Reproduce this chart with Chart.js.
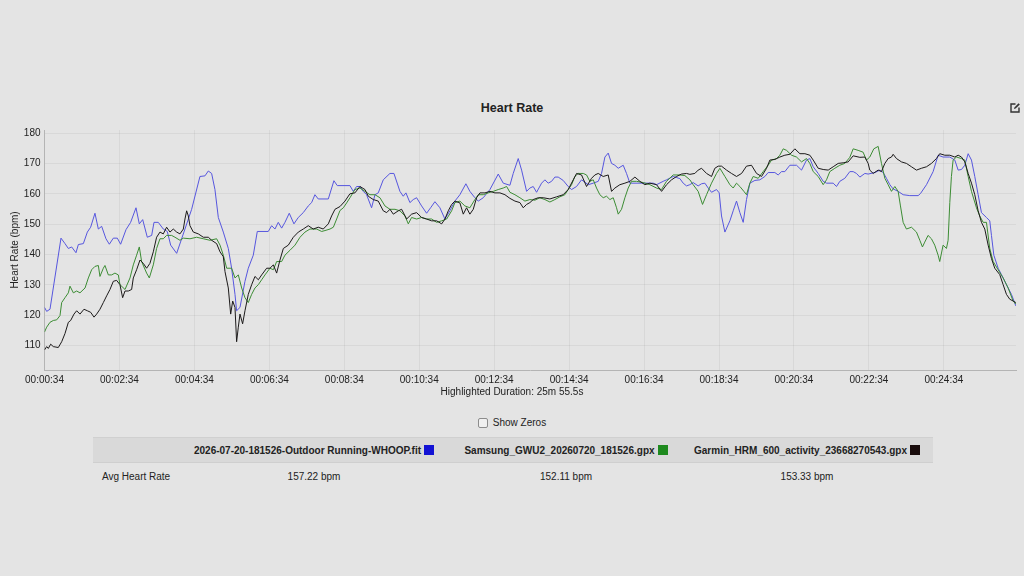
<!DOCTYPE html>
<html>
<head>
<meta charset="utf-8">
<script src="https://cdn.jsdelivr.net/npm/chart.js@4"></script>
<style>
  html, body { margin: 0; padding: 0; }
  body {
    width: 1024px; height: 576px; overflow: hidden; position: relative;
    background: #e4e4e4; color: #222;
    font-family: "Liberation Sans", Arial, Helvetica, sans-serif;
  }
  .title { position: absolute; top: 101px; left: 0; width: 1024px; text-align: center; font-weight: bold; font-size: 12.5px; }
  .edit { position: absolute; top: 102px; left: 1009px; }
  #wrap { position: absolute; left: 0; top: 120px; width: 1024px; height: 270px; }
  .duration { position: absolute; top: 386px; left: 0; width: 1024px; text-align: center; font-size: 10px; }
  .zeros { position: absolute; top: 417px; left: 0; width: 1024px; display: flex; justify-content: center; align-items: center; font-size: 10px; }
  .zeros .box { width: 8px; height: 8px; border: 1px solid #8c8c8c; border-radius: 2px; background: #f0f0f0; margin-right: 5px; }
  table { position: absolute; top: 437px; left: 93px; width: 840px; border-collapse: collapse; font-size: 10px; table-layout: fixed; }
  th { background: #d9d9d9; height: 24px; font-weight: bold; text-align: center; border-top: 1px solid #d0d0d0; border-bottom: 1px solid #cfcfcf; padding: 0; white-space: nowrap; }
  td { height: 26px; text-align: center; padding: 0; white-space: nowrap; }
  td.lbl { text-align: left; padding-left: 9px; }
  .sq { display: inline-block; width: 10px; height: 10px; vertical-align: -1px; margin-left: 3px; }
</style>
</head>
<body>
<div class="title">Heart Rate</div>
<svg class="edit" width="12" height="12" viewBox="0 0 12 12">
  <path d="M6.5 2 H2 V10 H10 V5.5" fill="none" stroke="#333" stroke-width="1.4"/>
  <path d="M5 7 L5.4 5.4 L9.6 1.2 L10.8 2.4 L6.6 6.6 Z" fill="#333"/>
</svg>
<div id="wrap"><canvas id="hr" width="1024" height="270"></canvas></div>
<div class="duration">Highlighted Duration: 25m 55.5s</div>
<div class="zeros"><span class="box"></span>Show Zeros</div>
<table>
  <colgroup><col style="width:84px"><col style="width:274px"><col style="width:230px"><col style="width:252px"></colgroup>
  <tr><th></th>
    <th>2026-07-20-181526-Outdoor Running-WHOOP.fit<span class="sq" style="background:#1212d4"></span></th>
    <th>Samsung_GWU2_20260720_181526.gpx<span class="sq" style="background:#1e8a1e"></span></th>
    <th>Garmin_HRM_600_activity_23668270543.gpx<span class="sq" style="background:#1a0d0d"></span></th></tr>
  <tr><td class="lbl">Avg Heart Rate</td><td>157.22 bpm</td><td>152.11 bpm</td><td>153.33 bpm</td></tr>
</table>
<script>
// elapsed seconds since 00:00:34 and heart rate
const whoopTime = [0,3.5,8.8,26.4,32.8,38.2,43.5,50.4,54.2,62.2,68.6,73.9,80.8,86.2,91.5,98.4,103.8,110.2,116.6,121.9,130.5,137.9,146.5,151.8,157.2,164.6,171.6,175.3,182.2,190.2,196.6,202,211.6,224.9,235.6,248.9,256.9,262.3,267.6,272.9,278.3,286.3,294.3,299.6,305,307.6,313,321,326.3,334.3,340.7,358.3,363.7,369,374.3,379.7,385,391.9,399.4,406.3,414.3,422.3,427.7,433,438.3,454.4,463.4,468.8,489,494.4,499.7,505.1,510.4,515.7,523.7,529.1,534.4,542.4,553.1,559.5,569.1,574.4,578.7,585.1,590.4,595.8,603.8,611.8,618.2,625.1,633.1,641.1,649.1,657.1,665.1,674.7,681.1,689.1,694.5,702.5,713.2,726.5,734.5,745.2,750.5,758.5,763.9,771.9,777.2,782.5,787.9,795.9,801.2,806.5,811.9,817.2,822.5,830.5,838.5,843.9,851.9,859.9,870.6,878.6,886.6,891.9,897.3,902.6,907.9,913.3,918.6,926.6,931.9,937.3,974.6,980,990.6,996,1006.6,1017.3,1022.6,1028,1033.3,1038.6,1046.6,1052,1057.3,1062.7,1068,1076,1080.3,1084,1089.4,1097.4,1102.7,1108,1113.4,1118.7,1124,1129.4,1137.4,1145.4,1153.4,1158.7,1169.4,1174.7,1180.1,1185.4,1193.4,1204.1,1212.1,1220.1,1225.4,1230.8,1238.8,1246.8,1252.1,1262.8,1268.1,1273.4,1281.4,1289.4,1294.8,1300.1,1305.5,1313.5,1318.8,1329.5,1337.5,1342.8,1348.1,1353.5,1358.8,1366.8,1374.8,1385.5,1398.8,1402.6,1412.2,1422.8,1430.8,1438.8,1449.5,1457.5,1462.9,1468.2,1473.5,1478.9,1484.2,1489.5,1494.9,1500.2,1508.2,1513.5,1516.2,1520,1526.9,1532.2,1540.2,1548.2,1555.2];
const whoopHr = [122.6,121.3,122,145.4,143.6,142,142.5,140.6,143.3,143.6,147.4,149,153.6,148.4,149.3,145.2,143.4,145.4,145.4,143.4,148.2,150.6,155.4,150.1,151.5,145.7,146.3,150.6,150.6,148.4,147.6,143.1,140.4,148.4,154.9,165.7,165.9,167.5,166.7,161.4,152.2,147.4,142,135.5,126.9,121.5,122.6,131.2,135.5,139.8,147.6,147.6,149.5,148.4,150.6,148.7,150.6,153.6,150.1,152.2,153.8,156,157.1,159.7,158.3,158.3,164.3,162.7,162.7,160.8,162.4,162.4,160.8,159.7,155.4,159.7,160.3,164.6,166.7,166.7,160.8,159.2,160.3,157.1,158.1,158.7,156,153.6,155.4,157.4,155.4,151.7,154.4,157.6,159.7,163.3,160.8,158.7,157.6,158.7,161.4,166.5,163.5,162.8,166.7,171.6,167.8,160.8,161.9,162.4,160.5,163.5,164.6,163.5,164.1,165.5,165.5,164.4,162.4,161.4,162.4,164.6,163,163.5,164.1,166.7,172.1,173.4,170,169.4,168.4,169.4,166.7,163.5,163.5,163,164.1,164.6,165.7,165,163.5,162.6,163,163.7,162.6,163.3,163.5,161.9,160.5,161.4,160.3,152.7,147.4,151.1,154.4,157.6,153.8,150.6,158.1,163.5,164.4,164.6,165.7,167,167,166.2,167.3,167.3,169.4,169.4,167.8,171.1,171.6,168.9,166.7,164.1,163.5,163.5,162.4,164.1,165.1,167.3,167.3,166.7,165.5,166.7,166.5,167,167.8,167,165.1,163,161.6,160.8,159.7,159.4,159.4,160.1,163,167.3,172.7,172.1,172.1,171.1,167.8,168,169.4,173.2,171.1,165.7,159.7,153.8,152.2,151.1,146.3,139.8,135.5,133.4,130.1,126.9,123.1];

const samsungTime = [0,3.5,8.8,14.1,19.5,24.8,27.5,32.8,38.2,40.8,46.2,51.5,56.8,64.9,70.2,75.5,80.8,86.2,88.8,94.2,96.8,102.2,107.5,112.8,118.2,120.8,128.9,136.9,142.2,147.5,151.8,155.5,163.5,167.8,174.2,179.5,184.9,190.2,195.5,203.5,208.9,216.9,222.3,233,243.6,254.3,265,275.6,281,286.3,291.7,299.6,305,310.3,315.7,321,326.3,331.7,337,342.4,347.7,353,361,366.4,371.7,379.7,385,393,401.1,409.1,417.1,425.1,435.8,443.8,449.1,457.1,462.5,467.8,473.1,478.5,483.8,489.1,497,505.1,513.1,521.1,529.1,537.1,545.1,553.1,561.2,569.1,577.2,582.5,587.8,595.8,603.8,611.8,619.8,627.9,635.9,643.9,651.9,657.1,665.1,673.1,681.1,689.1,694.5,702.5,710.5,718.5,726.5,734.5,739.9,745.2,753.2,761.2,769.2,777.2,785.2,793.2,801.2,809.2,817.2,825.2,833.2,838.5,843.9,849.2,854.5,862.6,867.9,873.2,878.6,883.9,889.2,894.6,899.9,905.3,910.6,915.9,918.6,923.9,929.3,934.6,939.9,947.9,958.6,969.3,979.9,987.9,995.9,1006.6,1017.3,1025.3,1033.3,1038.6,1046.6,1053.6,1060,1068,1076,1081.4,1089.4,1097.4,1102.7,1108,1113.4,1119.8,1124,1129.4,1134.7,1142.7,1150.7,1158.7,1164.1,1172.1,1177.4,1182.8,1188.1,1196.1,1204.1,1212.1,1220.1,1225.4,1230.8,1238.8,1246.8,1252.1,1257.4,1265.4,1273.4,1281.4,1289.4,1294.8,1302.7,1310.7,1316.1,1321.4,1327.8,1334.8,1340.1,1345.5,1350.8,1356.1,1361.5,1366.8,1370.5,1374.8,1380.1,1388.1,1396.1,1401.5,1405.7,1409.4,1414.7,1420.1,1425.4,1430.8,1433.4,1438.8,1444.1,1446.8,1449.5,1452.1,1454.8,1460.1,1468.2,1473.5,1478.9,1484.2,1492.2,1497.5,1502.9,1508.2,1513.5,1518.9,1526.9,1534.9,1542.9,1550.9,1555.2];
const samsungHr = [114.5,116.1,117.7,118.3,118.5,119.9,124.2,125.8,127.4,129.6,127.4,128,127.4,129,132.3,135,136.1,136.4,132.8,135.5,136.4,133.3,133.3,133.9,133.3,130.1,128.5,132.3,136.6,139.8,142.5,137.7,133.9,132.3,136.6,142,145.2,145.2,146.3,146.3,145.7,144.7,145.4,145.2,145.7,145.2,144.7,145.2,143.1,139.8,135.5,135.5,132.3,133.3,129,125.8,124.2,126.9,129,130.1,131.7,133.3,135.5,135,137.7,137.7,139.8,141.4,143.1,145.7,147.4,148.4,148.4,147.6,147.9,148.4,149,151.7,154.5,155.4,157,158.7,161.4,161.9,160.8,159.7,159.7,158.7,156,154.9,154.9,154.4,152.7,150.1,152.2,151.7,152.2,151.7,151.7,150.6,151.1,151.7,154.4,157.1,157.6,156,155.4,158.1,159.7,159.7,160.3,160.8,161.4,161.9,162.4,160.5,159.7,158.7,157.6,158.1,157.9,158.7,158.1,157.3,158.1,159,159.7,161.4,163,165.7,166.7,166.7,166.2,164.1,164.6,161.9,159.7,158.7,159.2,158.1,158.7,155.4,153.3,154.9,158.7,161.9,164.1,164.1,163.7,163,161.9,161.4,164.1,166.2,166.2,166,164.6,163,160.8,156.5,159.7,163.5,166.7,168.4,165.7,163,161.9,163.5,162.4,160.8,159.7,163.5,165.7,165.1,167.3,169.4,171.1,171.6,172.7,174.8,174.3,172.7,172.1,170.5,171.6,170,167.3,165.7,163,164.6,167.3,168.4,169.4,170,172,174.8,174.3,173.7,171.1,172.1,174.8,175.6,170,165.1,163,160.8,162.4,160.8,156,150.6,148.4,149,147.4,144.7,142.5,144.1,146.3,145.2,143.1,139.8,137.7,143.1,142,144.7,157.1,165.7,171.1,172.1,171.6,171.1,165.7,160.8,155.4,152.7,150.6,150.6,142,137.7,135,132.3,129,124.7,123.7];

const garminTime = [0,3.5,6.1,9.9,14.1,22.1,27.5,32.8,38.2,41.9,47.2,51.5,56.8,63.2,68.6,73.9,79.3,83.5,88.8,94.2,99.5,104.8,110.2,115.5,120.8,125.1,128.9,134.2,139.5,142.2,147.5,152.9,158.2,163.5,168.8,174.2,179.5,184.9,190.2,195.5,200.9,206.2,211.6,216.9,222.3,224.9,227.6,230.3,232.9,238.3,246.3,254.3,262.3,267.6,275.6,281,286.3,289,294.3,298.1,301.3,305,307.6,310.3,313,317.2,321,326.3,331.7,337,342.4,347.7,355.7,361,366.4,371.7,377,382.4,390.4,398.4,406.4,414.3,422.3,430.3,438.3,446.3,454.4,459.7,465.1,473.1,481.1,489,497,505.1,513.1,518.4,526.4,534.4,542.4,547.8,553.1,558.5,566.5,571.8,579.8,587.8,595.8,603.8,611.8,619.8,627.9,635.9,641.2,646.5,651.9,657.1,665.1,670.5,675.8,681.1,686.5,691.8,697.2,705.2,713.2,721.2,729.2,737.2,745.2,753.2,761.2,766.5,771.9,777.2,782.5,790.5,798.6,809.2,819.9,830.5,838.5,846.6,851.9,859.9,867.9,875.9,881.2,886.6,894.6,902.6,907.9,913.3,921.3,929.3,937.3,945.3,953.3,961.3,969.3,980,988,996,1004,1012,1020,1028,1033.3,1041.3,1046.6,1052,1060,1068,1073.3,1078.7,1084,1092,1100,1108,1116.1,1124,1132,1140.1,1148.1,1156.1,1161.4,1169.4,1177.4,1185.4,1193.4,1201.4,1209.5,1217.5,1225.4,1230.8,1238.8,1246.8,1254.8,1262.8,1270.8,1278.8,1286.8,1294.8,1305.5,1313.5,1318.8,1321.4,1326.8,1334.8,1340.1,1345.5,1350.8,1356.1,1358.8,1364.1,1372.1,1380.1,1388.1,1396.1,1404.1,1412.2,1420.1,1428.1,1433.4,1441.5,1449.5,1457.5,1462.9,1468.2,1473.5,1478.9,1484.2,1489.5,1494.9,1500.2,1505.5,1510.9,1516.2,1521.5,1529.5,1534.9,1540.2,1545.5,1550.9,1555.2];
const garminHr = [108.6,109.7,109.1,110.5,109.7,109.4,111.3,114,117.7,118.3,120.4,121.5,120.4,122,121.5,121,119.4,120.4,122,124.2,126.4,128.5,131.2,131.5,130.1,125.8,128,128,128.5,132.3,135,138.2,137.1,135.5,137.1,140.9,145.7,147.4,146.8,149,147.4,148.4,147.4,146.8,148.4,151.7,154.4,152.7,149.5,147.4,146.8,145.7,145.7,144.7,143.6,140.9,139.3,134.4,129,120.4,124.7,122.6,111.3,116.1,120.4,117.2,121.5,126.9,130.1,132.8,131.7,133.3,135.5,135.5,136.6,133.9,138.2,142,143.1,145.7,147.4,148.4,149.5,148.4,149,148.4,150.1,152.7,154.9,155.8,157.6,160,160.3,162.4,161.4,159.2,158.1,157.6,154.4,153.8,154.9,153.3,154.4,154.9,151.7,153.3,153.8,152.2,151.7,151.1,151.1,150.1,151.7,154.4,156.5,157.6,157,153.3,155.4,153.3,154.9,158.7,160.3,160.3,160.8,160.3,160.3,159.7,158.5,157.6,157.1,155.4,156.5,157.1,158.1,158.7,158.7,158.3,159,159.7,161.4,164.6,166.7,166.2,162.4,165.1,166.2,166.7,165.7,166.2,160.8,161.9,163,163.5,164.1,165.5,164.1,163,163.5,163,160.8,163,164.6,165.7,166.5,166.7,166.4,166.7,167.8,168.4,166.7,165.7,168.4,169.1,169.1,167.8,166.7,165.7,166.7,169.1,169.4,166.7,165.7,168.4,171.1,171.3,172.1,172.7,173,174.8,173.2,173.2,172.7,171.1,168.4,168,167.8,168.9,170,170.2,170.5,172.5,172,172.1,170,167.8,166.7,167.8,167.3,170,171.6,172.1,173,171.6,170.5,170,168.9,167.8,168.4,168.9,170,171.6,173.2,172.7,172.7,172.1,172.7,172.1,170.5,166.7,163.5,159.7,154.4,150.6,148.4,143.1,138.7,135.5,133.4,130.1,126.9,125.3,124.7,124.2];

const xTicks = [0, 120, 240, 360, 480, 600, 720, 840, 960, 1080, 1200, 1320, 1440];
const yTicks = [110, 120, 130, 140, 150, 160, 170, 180];
const startOffset = 34; // first sample is at 00:00:34

function points(times, values) {
  return times.map((t, i) => ({ x: t, y: values[i] }));
}

function clock(sec) {
  const s = Math.round(sec + startOffset);
  const pad = n => String(n).padStart(2, '0');
  return pad(Math.floor(s / 3600)) + ':' + pad(Math.floor(s / 60) % 60) + ':' + pad(s % 60);
}

const tickFont = { family: '"Liberation Sans", Arial, sans-serif', size: 10 };

new Chart(document.getElementById('hr'), {
  type: 'line',
  data: {
    datasets: [
      { label: 'WHOOP', data: points(whoopTime, whoopHr), borderColor: '#5656de', order: 3 },
      { label: 'Samsung', data: points(samsungTime, samsungHr), borderColor: '#3c8c34', order: 2 },
      { label: 'Garmin', data: points(garminTime, garminHr), borderColor: '#1c1a1a', order: 1 },
    ],
  },
  options: {
    responsive: false,
    animation: false,
    layout: { padding: { left: 0, right: 8, top: 0, bottom: 0 } },
    elements: {
      point: { radius: 0 },
      line: { borderWidth: 1, tension: 0 },
    },
    plugins: { legend: { display: false }, tooltip: { enabled: false } },
    scales: {
      x: {
        type: 'linear',
        min: 0,
        max: 1555.5,
        afterBuildTicks: scale => { scale.ticks = xTicks.map(v => ({ value: v })); },
        afterFit: scale => { scale.height = 20; },
        ticks: { autoSkip: false, maxRotation: 0, padding: 4, color: '#222', font: tickFont, callback: v => clock(v) },
        grid: { color: 'rgba(0,0,0,0.05)', drawTicks: false },
        border: { color: '#b4b4b4' },
      },
      y: {
        min: 102,
        max: 181,
        afterBuildTicks: scale => { scale.ticks = yTicks.map(v => ({ value: v })); },
        afterFit: scale => { scale.width = 44.5; },
        ticks: { padding: 4, color: '#222', font: tickFont },
        grid: { color: 'rgba(0,0,0,0.05)', drawTicks: false },
        border: { color: '#b4b4b4' },
        title: { display: true, text: 'Heart Rate (bpm)', color: '#222', font: { family: tickFont.family, size: 10 }, padding: { top: 9, bottom: 0 } },
      },
    },
  },
});
</script>
</body>
</html>
